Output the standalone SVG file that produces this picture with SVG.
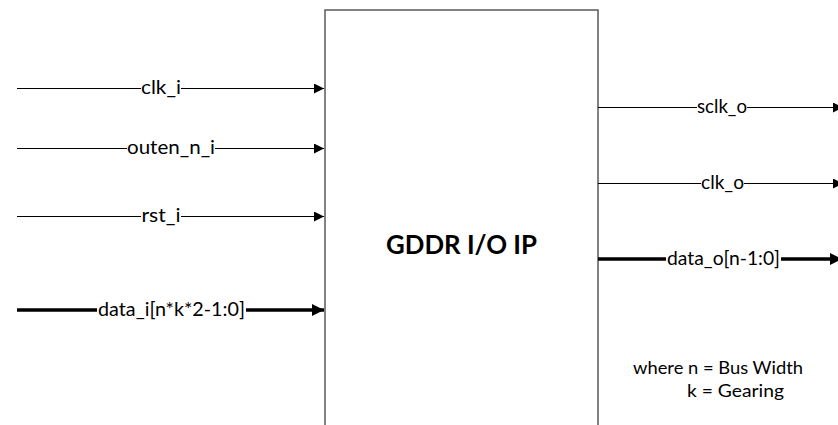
<svg xmlns="http://www.w3.org/2000/svg" width="838" height="425" viewBox="0 0 838 425">
  <style>
    .lbl { font-family: Lato, "Open Sans", "Liberation Sans", sans-serif; font-size: 19px; fill: #000; text-anchor: middle; }
    .note { font-family: Lato, "Open Sans", "Liberation Sans", sans-serif; font-size: 17px; fill: #000; }
    .title { font-family: Lato, "Open Sans", "Liberation Sans", sans-serif; font-size: 26px; font-weight: bold; fill: #000; text-anchor: middle; }
    .thin { stroke: #000; stroke-width: 1.2; fill: none; marker-end: url(#headThin); }
    .thick { stroke: #000; stroke-width: 3.5; fill: none; marker-end: url(#headThick); }
    .bg { fill: #fff; }
  </style>
  <defs>
    <marker id="headThin" markerUnits="userSpaceOnUse" markerWidth="12" markerHeight="10" refX="10" refY="5" orient="auto">
      <path d="M0,0 L10,5 L0,10 Z" fill="#000"/>
    </marker>
    <marker id="headThick" markerUnits="userSpaceOnUse" markerWidth="14" markerHeight="14" refX="12" refY="7" orient="auto">
      <path d="M0,1 L12,7 L0,13 Z" fill="#000"/>
    </marker>
  </defs>
  <rect width="838" height="425" fill="#fff"/>

  <!-- main block -->
  <g id="gddr-io-ip">
    <path d="M325,430 L325,10 L598,10 L598,430" fill="#fff" stroke="#5a5a5a" stroke-width="1.5"/>
    <text class="title" x="461.5" y="254" textLength="151" lengthAdjust="spacingAndGlyphs">GDDR I/O IP</text>
  </g>

  <!-- port connectors -->
  <g id="connectors">
    <line class="thin" x1="17" y1="88.5" x2="324" y2="88.5"/>
    <line class="thin" x1="17" y1="148.5" x2="324" y2="148.5"/>
    <line class="thin" x1="17" y1="216.5" x2="324" y2="216.5"/>
    <line class="thick" x1="17" y1="310" x2="324" y2="310"/>
    <line class="thin" x1="598" y1="107.5" x2="843" y2="107.5"/>
    <line class="thin" x1="598" y1="183.5" x2="843" y2="183.5"/>
    <line class="thick" x1="598" y1="259" x2="842" y2="259"/>
  </g>

  <!-- port labels -->
  <g id="port-clk_i">
    <rect class="bg" x="141" y="80" width="40" height="16"/>
    <text class="lbl" x="161" y="94" textLength="40" lengthAdjust="spacingAndGlyphs">clk_i</text>
  </g>
  <g id="port-outen_n_i">
    <rect class="bg" x="127" y="140" width="88" height="16"/>
    <text class="lbl" x="171" y="154" textLength="88" lengthAdjust="spacingAndGlyphs">outen_n_i</text>
  </g>
  <g id="port-rst_i">
    <rect class="bg" x="141" y="208" width="40" height="16"/>
    <text class="lbl" x="161" y="222" textLength="39" lengthAdjust="spacingAndGlyphs">rst_i</text>
  </g>
  <g id="port-data_i">
    <rect class="bg" x="97" y="301" width="149" height="18"/>
    <text class="lbl" x="171.5" y="316" textLength="147" lengthAdjust="spacingAndGlyphs">data_i[n*k*2-1:0]</text>
  </g>
  <g id="port-sclk_o">
    <rect class="bg" x="697" y="99" width="50" height="16"/>
    <text class="lbl" x="722" y="113" textLength="50" lengthAdjust="spacingAndGlyphs">sclk_o</text>
  </g>
  <g id="port-clk_o">
    <rect class="bg" x="701" y="175" width="43" height="16"/>
    <text class="lbl" x="722.5" y="189" textLength="43" lengthAdjust="spacingAndGlyphs">clk_o</text>
  </g>
  <g id="port-data_o">
    <rect class="bg" x="666" y="250" width="115" height="18"/>
    <text class="lbl" x="723.5" y="265" textLength="113" lengthAdjust="spacingAndGlyphs">data_o[n-1:0]</text>
  </g>

  <!-- legend -->
  <g id="legend">
    <text class="note" x="633" y="374" textLength="170" lengthAdjust="spacingAndGlyphs">where n = Bus Width</text>
    <text class="note" x="687" y="397" textLength="97" lengthAdjust="spacingAndGlyphs">k = Gearing</text>
  </g>
</svg>
